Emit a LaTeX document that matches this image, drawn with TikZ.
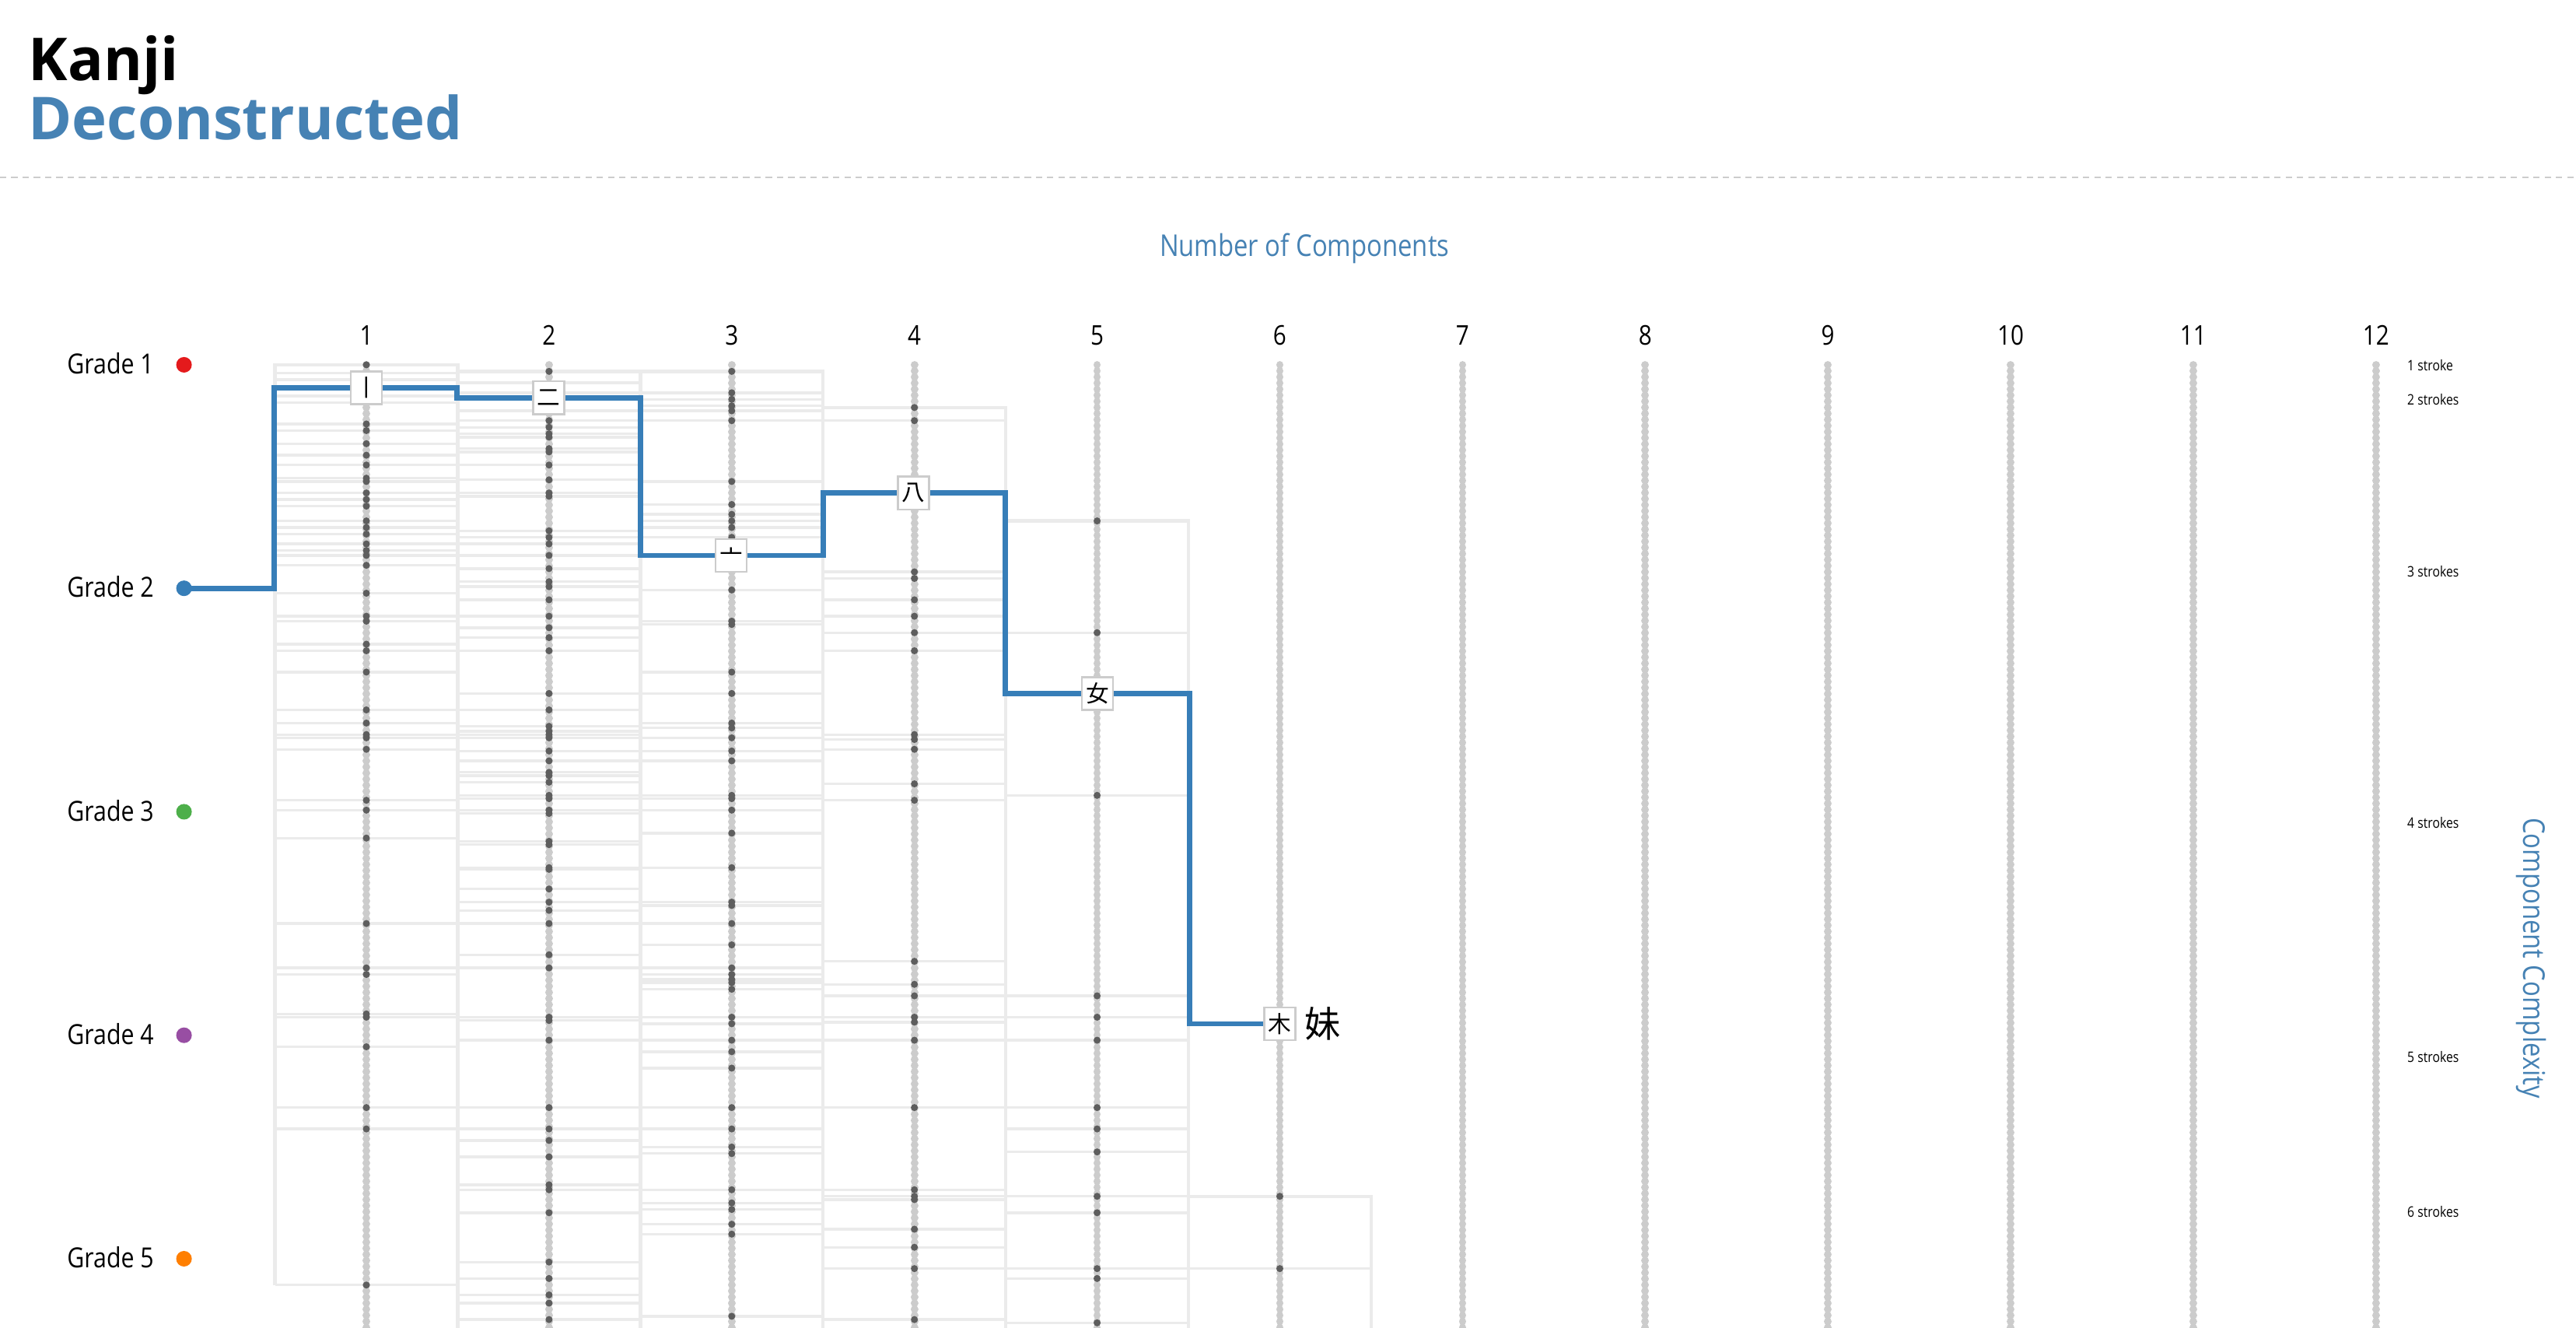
\documentclass[tikz,border=0pt]{standalone}
\usepackage{fontspec}
\usepackage{xcolor}
\setmainfont{Open Sans}
\newfontfamily\labelfont[FakeStretch=0.85]{Open Sans}
\newfontfamily\cjkfont{Noto Sans CJK JP}
\definecolor{vizTitle}{HTML}{4682B4}
\definecolor{vizPath}{HTML}{377EB8}
\definecolor{vizStrip}{HTML}{EBEBEB}
\definecolor{vizColumn}{HTML}{CCCCCC}
\definecolor{vizDot}{HTML}{5E5E5E}
\definecolor{vizBorder}{HTML}{CCCCCC}
\definecolor{gradeOne}{HTML}{E41A1C}
\definecolor{gradeTwo}{HTML}{377EB8}
\definecolor{gradeThree}{HTML}{4DAF4A}
\definecolor{gradeFour}{HTML}{984EA3}
\definecolor{gradeFive}{HTML}{FF7F00}
\usetikzlibrary{backgrounds}

\tikzset{
  stripline/.style={vizStrip, line width=0.9pt},
  stripedge/.style={vizStrip, line width=1.2pt},
  columnline/.style={vizColumn, line width=2.6pt, line cap=round, dash pattern=on 0.01pt off 2.1pt},
  compbox/.style={draw=vizBorder, fill=white, line width=0.7pt, minimum width=3.8mm, minimum height=4mm,
    inner sep=0pt, font=\cjkfont\fontsize{8}{9}\selectfont},
  gradelabel/.style={anchor=base east, inner sep=0pt, font=\labelfont\fontsize{9.6}{11}\selectfont},
  axistitle/.style={text=vizTitle, inner sep=0pt, font=\labelfont\fontsize{10.4}{13}\selectfont}
}

\begin{document}
\begin{tikzpicture}[x=0.2mm, y=-0.2mm]
  \useasboundingbox (0,0) rectangle (1568,808);

  % title and separator
  \node[anchor=base west, inner sep=0pt, font=\bfseries\fontsize{20.5}{24}\selectfont] (titleTop) at (17,49) {Kanji};
  \node[anchor=base west, inner sep=0pt, text=vizTitle, font=\bfseries\fontsize{20.5}{24}\selectfont] (titleBottom) at (17,85) {Deconstructed};
  \draw[vizBorder, line width=0.6pt, dash pattern=on 2.2pt off 1.7pt] (0,108) -- (1568,108);

  % axis titles
  \node[axistitle] (xaxis) at (794,151) {Number of Components};
  \node[axistitle, rotate=-90] (yaxis) at (1541,583) {Component Complexity};

  % grades
  \foreach \g/\y/\c in {1/222/gradeOne, 2/358/gradeTwo, 3/494/gradeThree, 4/630/gradeFour, 5/766/gradeFive} {
    \node[gradelabel] (glabel\g) at (94,\y+5.5) {Grade \g};
    \node[circle, fill=\c, inner sep=0pt, minimum size=1.9mm] (gdot\g) at (112,\y) {};
  }

  % stroke counts
  \foreach \s/\y/\txt in {1/225.7/1 stroke, 2/246.2/2 strokes, 3/351.2/3 strokes,
                          4/504/4 strokes, 5/646.6/5 strokes, 6/740.8/6 strokes} {
    \node[anchor=base west, inner sep=0pt, font=\labelfont\fontsize{5}{6}\selectfont] (stroke\s) at (1465,\y) {\txt};
  }

  \begin{scope}[on background layer]
    \fill[white] (0,0) rectangle (1568,808);
    % extra strip lines without a component
    \foreach \y in {227,231,241,245} \draw[stripline] (167,\y) -- (278,\y);
    \foreach \y in {233,239,250} \draw[stripline] (278,\y) -- (390,\y);
    % strips, columns and components
    \foreach \col/\stripTop/\stripBot/\ys in {
      1/222/782/{222,258,262,270,277,283,291,293,300,304,308,317,321,325,331,335,338,344,361,375,378,392,396,409,432,440,447,449,456,487,493,510,562,589,593,617,619,637,674,687,782},
      2/226/808/{226,256,260,264,266,273,275,283,292,300,302,323,327,331,338,346,354,357,365,375,382,388,396,422,432,442,445,447,449,457,463,470,472,476,484,486,493,495,512,514,528,529,541,549,554,562,581,589,619,621,633,674,687,694,704,721,724,738,768,778,788,793,803},
      3/226/808/{226,239,243,247,250,256,293,307,313,317,321,327,359,378,380,409,422,440,443,449,457,463,484,486,493,507,528,549,551,562,575,589,593,596,598,602,619,623,633,640,650,674,687,698,702,724,732,736,745,751,801},
      4/248/808/{248,256,348,352,365,375,385,396,447,450,456,477,487,585,599,606,619,622,633,674,724,728,730,748,759,772,803},
      5/317/808/{317,385,484,606,619,633,674,687,701,728,738,772,778,805},
      6/728/808/{728,772}} {
      \pgfmathsetmacro{\cx}{223+(\col-1)*111.2}
      \pgfmathsetmacro{\lx}{\cx-55.6}
      \pgfmathsetmacro{\rx}{\cx+55.6}
      \draw[stripedge] (\lx,\stripBot) -- (\lx,\stripTop) -- (\rx,\stripTop) -- (\rx,\stripBot);
      \foreach \y in \ys \draw[stripline] (\lx,\y) -- (\rx,\y);
      \draw[columnline] (\cx,222) -- (\cx,808);
      \foreach \y in \ys \fill[vizDot] (\cx,\y) circle (0.43mm);
    }
    \foreach \col in {7,...,12} {
      \pgfmathsetmacro{\cx}{223+(\col-1)*111.2}
      \draw[columnline] (\cx,222) -- (\cx,808);
    }
  \end{scope}

  % column numbers
  \foreach \col in {1,...,12} {
    \pgfmathsetmacro{\cx}{223+(\col-1)*111.2}
    \node[anchor=base, inner sep=0pt, font=\labelfont\fontsize{9.4}{11}\selectfont] (num\col) at (\cx,210) {\col};
  }

  % components of the selected kanji
  \node[compbox] (kb1) at (223,236) {丨};
  \node[compbox] (kb2) at (334,242) {二};
  \node[compbox] (kb3) at (445,338) {亠};
  \node[compbox] (kb4) at (556,300) {八};
  \node[compbox] (kb5) at (668,422) {女};
  \node[compbox] (kb6) at (779,623) {木};
  \node[inner sep=0pt, font=\cjkfont\fontsize{12.5}{14}\selectfont] (kanji) at (805,623) {妹};

  \foreach \i/\ex in {0/167, 1/278, 2/390, 3/501, 4/612, 5/724}
    \coordinate (e\i) at (\ex,0);

  \begin{scope}[on background layer]
    \draw[vizPath, line width=1.8pt] (gdot2.center) -| (e0 |- kb1) -- (e1 |- kb1) |- (kb2)
      -- (e2 |- kb2) |- (kb3) -- (e3 |- kb3) |- (kb4) -- (e4 |- kb4) |- (kb5)
      -- (e5 |- kb5) |- (kb6);
  \end{scope}
\end{tikzpicture}
\end{document}
